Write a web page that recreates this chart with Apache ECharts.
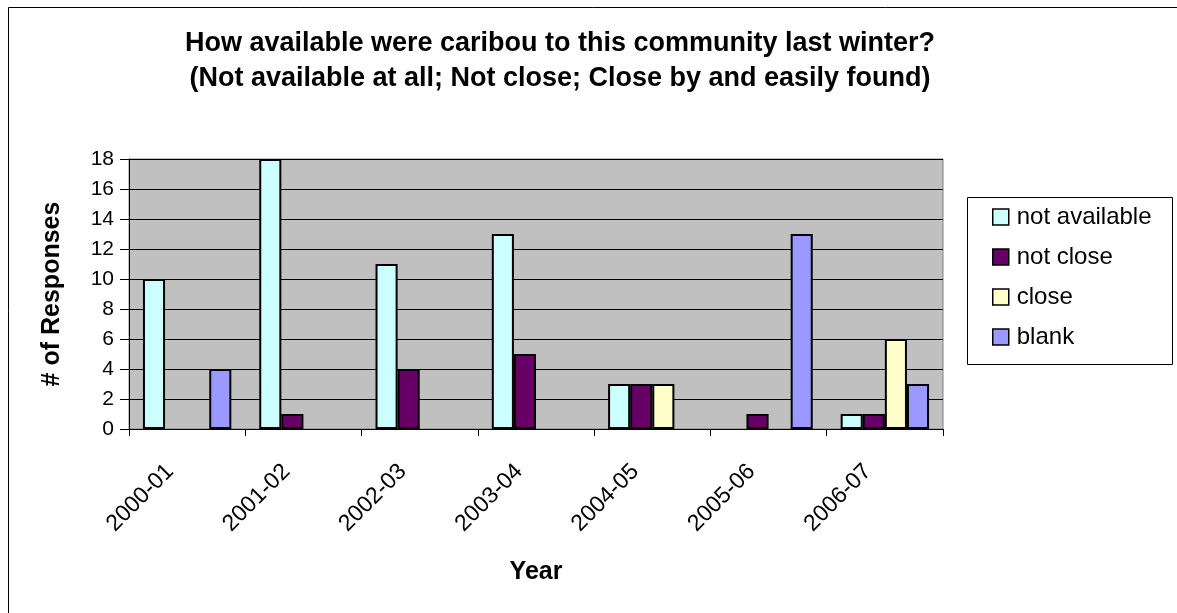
<!DOCTYPE html>
<html>
<head>
<meta charset="utf-8">
<script src="https://cdn.jsdelivr.net/npm/echarts@6/dist/echarts.min.js"></script>
<style>html,body{margin:0;padding:0;background:#fff;}#c{width:1177px;height:613px;}</style>
</head>
<body>
<div id="c"></div>
<script>
const categories = ['2000-01','2001-02','2002-03','2003-04','2004-05','2005-06','2006-07'];
const notAvailable = [10, 18, 11, 13, 3, null, 1];
const notClose = [null, 1, 4, 5, 3, 1, 1];
const close = [null, null, null, null, 3, null, 6];
const blank = [4, null, null, null, null, 13, 3];
const seriesNames = ['not available', 'not close', 'close', 'blank'];
const colors = ['#CCFFFF', '#660066', '#FFFFCC', '#9999FF'];
const yTicks = [0, 2, 4, 6, 8, 10, 12, 14, 16, 18];

const FONT = "'Liberation Sans', Arial, Helvetica, sans-serif";
const chart = echarts.init(document.getElementById('c'), null, {renderer: 'canvas'});
const dataSets = [notAvailable, notClose, close, blank];

chart.setOption({
  animation: false,
  backgroundColor: '#ffffff',
  textStyle: {fontFamily: FONT},
  title: {
    text: 'How available were caribou to this community last winter?\n(Not available at all; Not close; Close by and easily found)',
    left: 560,
    top: 26,
    textAlign: 'center',
    padding: 0,
    textStyle: {fontFamily: FONT, fontSize: 27, fontWeight: 'bold', color: '#000', lineHeight: 35}
  },
  graphic: [
    {type: 'rect', left: 6, top: 5, shape: {x: 0, y: 0, width: 1200, height: 640}, style: {fill: 'none', stroke: '#000', lineWidth: 1}, silent: true, z: -10},
    {type: 'rect', left: 967, top: 197, shape: {x: 0, y: 0, width: 205, height: 167}, style: {fill: '#fff', stroke: '#000', lineWidth: 1}, silent: true, z: 0}
  ],
  legend: {
    orient: 'vertical',
    left: 992,
    top: 205,
    itemWidth: 16,
    itemHeight: 16,
    itemGap: 16,
    icon: 'rect',
    padding: 0,
    z: 10,
    data: seriesNames,
    itemStyle: {borderColor: '#000', borderWidth: 1.5},
    textStyle: {fontFamily: FONT, fontSize: 24, color: '#000', padding: [0, 0, 0, 3]}
  },
  grid: {left: 129, right: 234, top: 159, bottom: 184, show: true, backgroundColor: '#C0C0C0', borderColor: '#808080', borderWidth: 1, containLabel: false},
  xAxis: {
    type: 'category',
    data: categories,
    name: 'Year',
    nameLocation: 'middle',
    nameGap: 131,
    nameTextStyle: {fontFamily: FONT, fontSize: 25, fontWeight: 'bold', color: '#000'},
    axisLine: {lineStyle: {color: '#000', width: 1}},
    axisTick: {show: true, alignWithLabel: false, length: 7, lineStyle: {color: '#000'}},
    axisLabel: {rotate: 45, margin: 22, padding: [0, 24, 0, 0], fontFamily: FONT, fontSize: 23, color: '#000', interval: 0},
    splitLine: {show: false}
  },
  yAxis: {
    type: 'value',
    min: 0,
    max: 18,
    interval: 2,
    name: '# of Responses',
    nameLocation: 'middle',
    nameGap: 64,
    nameTextStyle: {fontFamily: FONT, fontSize: 25, fontWeight: 'bold', color: '#000'},
    axisLine: {show: true, lineStyle: {color: '#000', width: 1}},
    axisTick: {show: true, length: 9, lineStyle: {color: '#000'}},
    axisLabel: {margin: 15, fontFamily: FONT, fontSize: 21, color: '#000',
      formatter: v => yTicks.includes(v) ? String(v) : ''},
    splitLine: {show: true, lineStyle: {color: '#000', width: 1}}
  },
  series: seriesNames.map((n, i) => ({
    name: n,
    type: 'bar',
    data: dataSets[i],
    barGap: '0%',
    barCategoryGap: '24%',
    itemStyle: {color: colors[i], borderColor: '#000', borderWidth: 2}
  }))
});
</script>
</body>
</html>
